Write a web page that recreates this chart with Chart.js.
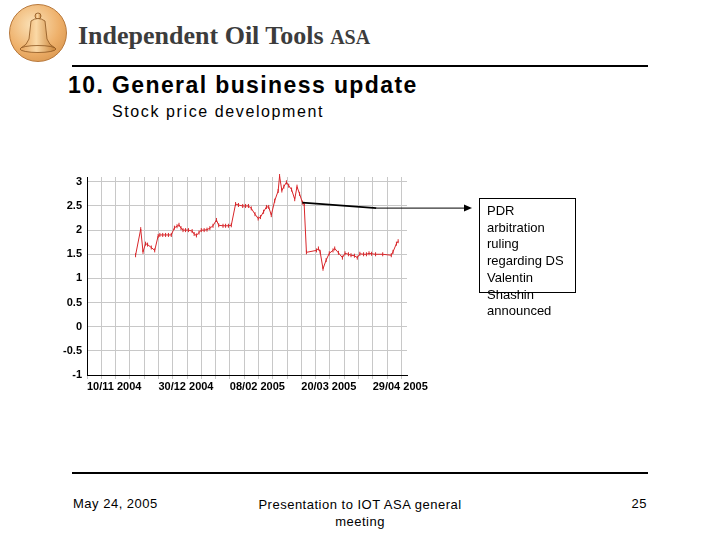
<!DOCTYPE html>
<html>
<head>
<meta charset="utf-8">
<script src="https://cdn.jsdelivr.net/npm/chart.js@4"></script>
<style>
  body { margin: 0; width: 720px; height: 540px; background: #fff; position: relative; overflow: hidden;
         font-family: "Liberation Sans", Arial, sans-serif; }
  .abs { position: absolute; white-space: nowrap; }
  #logo { left: 9px; top: 4px; width: 56px; height: 56px; border-radius: 50%;
          background: radial-gradient(circle at 40% 35%, #fbe2b8, #eeb06a 55%, #cf8a42);
          border: 1px solid #b8783a; }
  #company { left: 78px; top: 21px; font-family: "Liberation Serif", "Times New Roman", serif; font-weight: bold;
             font-size: 26px; color: #3c3c3c; }
  #company span { font-size: 20px; }
  .rule { position: absolute; left: 72px; width: 576px; height: 2px; background: #000; }
  #title { left: 68px; top: 72px; font-weight: bold; font-size: 23px; letter-spacing: 1.4px; color: #000; }
  #subtitle { left: 112px; top: 103px; font-size: 16px; letter-spacing: 1.6px; color: #000; }
  #chartBox { position: absolute; left: 60px; top: 170px; }
  #chartBox canvas { display: block; }
  #callout { position: absolute; left: 479px; top: 198px; width: 95px; height: 93px; border: 1px solid #000; }
  #calloutText { left: 487px; top: 203px; font-size: 13px; line-height: 16.7px; color: #000; }
  .foot { position: absolute; top: 496px; font-size: 13px; letter-spacing: 0.5px; color: #000; }
</style>
</head>
<body>
<div id="logo" class="abs">
  <svg width="56" height="56" viewBox="0 0 56 56">
    <defs>
      <linearGradient id="bg" x1="0" x2="1">
        <stop offset="0" stop-color="#e6a25a"/>
        <stop offset="0.45" stop-color="#fbd9a6"/>
        <stop offset="1" stop-color="#c98236"/>
      </linearGradient>
    </defs>
    <circle cx="28" cy="11" r="3" fill="url(#bg)" stroke="#8a5420" stroke-width="0.8"/>
    <path d="M21 16 Q28 11 35 16 L37 34 Q39 40 45 43 L11 43 Q17 40 19 34 Z" fill="url(#bg)" stroke="#8a5420" stroke-width="0.8"/>
    <ellipse cx="28" cy="44" rx="18" ry="3.5" fill="url(#bg)" stroke="#8a5420" stroke-width="0.8"/>
  </svg>
</div>
<div id="company" class="abs">Independent Oil Tools <span>ASA</span></div>
<div class="rule" style="top:65px"></div>
<div id="title" class="abs">10. General business update</div>
<div id="subtitle" class="abs">Stock price development</div>

<div id="chartBox"><canvas id="chart" width="430" height="230"></canvas></div>

<div id="callout"></div>
<div id="calloutText" class="abs">PDR<br>arbitration<br>ruling<br>regarding DS<br>Valentin<br>Shashin<br>announced</div>

<div class="rule" style="top:472px"></div>
<div class="foot" style="left:73px">May 24, 2005</div>
<div class="foot" style="left:220px; width:280px; text-align:center; line-height:17px">Presentation to IOT ASA general<br>meeting</div>
<div class="foot" style="left:600px; width:47px; text-align:right">25</div>

<script>
// trading-day index (5 per grid column) and closing price
const days = [17.0, 18.8, 19.6, 20.5, 21.2, 22.5, 23.7, 24.9, 25.5, 26.5, 27.5, 28.5, 29.5,
  30.6, 31.5, 32.2, 32.9, 33.6, 34.5, 35.5, 36.8, 37.5, 38.3, 39.2, 40.0, 41.0, 42.0, 43.0,
  44.1, 45.3, 46.1, 47.6, 48.5, 49.5, 50.5, 52.0, 53.0, 54.5, 55.5, 56.5, 57.5, 58.8, 59.9,
  60.7, 61.8, 62.8, 63.6, 64.5, 65.7, 66.9, 67.4, 68.2, 68.9, 69.8, 70.6, 71.6, 72.7, 73.5,
  74.4, 75.4, 76.0, 76.8, 80.3, 81.0, 81.6, 82.6, 83.7, 84.8, 86.1, 86.7, 88.0, 89.4, 90.3,
  91.5, 92.4, 93.6, 94.6, 95.5, 96.8, 97.8, 98.7, 99.6, 101.0, 103.5, 106.5, 107.1, 108.3, 108.9];
const prices = [1.48, 2.02, 1.55, 1.72, 1.70, 1.64, 1.58, 1.88, 1.90, 1.90, 1.90, 1.90, 1.90,
  2.05, 2.08, 2.11, 2.04, 2.00, 2.00, 2.00, 1.98, 1.92, 1.89, 1.95, 2.00, 2.00, 2.01, 2.04,
  2.09, 2.21, 2.10, 2.09, 2.09, 2.09, 2.10, 2.54, 2.52, 2.50, 2.50, 2.50, 2.45, 2.33, 2.24,
  2.27, 2.38, 2.48, 2.48, 2.31, 2.61, 2.81, 3.12, 2.82, 2.90, 2.99, 2.92, 2.84, 2.64, 2.90,
  2.75, 2.57, 2.54, 1.54, 1.58, 1.62, 1.55, 1.20, 1.38, 1.52, 1.58, 1.62, 1.53, 1.43, 1.52,
  1.50, 1.48, 1.47, 1.43, 1.51, 1.50, 1.50, 1.52, 1.51, 1.50, 1.50, 1.48, 1.55, 1.72, 1.77];

const xGrid = [0, 5, 10, 15, 20, 25, 30, 35, 40, 45, 50, 55, 60, 65, 70, 75, 80, 85, 90, 95, 100, 105, 110];
const xTickLabels = { 0: '10/11 2004', 25: '30/12 2004', 50: '08/02 2005', 75: '20/03 2005', 100: '29/04 2005' };
const yTicks = [-1, -0.5, 0, 0.5, 1, 1.5, 2, 2.5, 3];
const annotIndex = 59; // point the PDR callout arrow starts from

const tickFont = { family: '"Liberation Sans Narrow", "Liberation Sans", Arial', size: 11, weight: 'bold' };

const arrowPlugin = {
  id: 'arrow',
  afterDraw(chart) {
    const ctx = chart.ctx;
    const pt = chart.getDatasetMeta(0).data[annotIndex];
    const endX = chart.chartArea.right + 65;
    const bendX = pt.x + 74, bendY = pt.y + 5.5;
    ctx.save();
    ctx.strokeStyle = '#000';
    ctx.fillStyle = '#000';
    ctx.lineWidth = 1.6;
    ctx.beginPath();
    ctx.moveTo(pt.x, pt.y);
    ctx.lineTo(bendX, bendY);
    ctx.stroke();
    ctx.lineWidth = 1;
    ctx.beginPath();
    ctx.moveTo(bendX, bendY);
    ctx.lineTo(endX - 6, bendY);
    ctx.stroke();
    ctx.beginPath();
    ctx.moveTo(endX, bendY);
    ctx.lineTo(endX - 8, bendY - 3.5);
    ctx.lineTo(endX - 8, bendY + 3.5);
    ctx.closePath();
    ctx.fill();
    ctx.restore();
  }
};

new Chart(document.getElementById('chart'), {
  type: 'line',
  data: {
    datasets: [{
      data: days.map((d, i) => ({ x: d, y: prices[i] })),
      borderColor: '#d8262a',
      borderWidth: 1,
      pointStyle: 'line',
      pointRotation: 90,
      pointRadius: 2,
      pointBorderColor: '#d8262a',
      pointBorderWidth: 1,
      tension: 0,
      clip: false
    }]
  },
  options: {
    responsive: false,
    animation: false,
    devicePixelRatio: 1,
    layout: { padding: { left: 0, top: 7, right: 83, bottom: 0 } },
    plugins: { legend: { display: false }, tooltip: { enabled: false } },
    scales: {
      x: {
        type: 'linear',
        min: 0,
        max: 112,
        afterBuildTicks: s => { s.ticks = xGrid.map(v => ({ value: v })); },
        afterFit: s => { s.height = 25; },
        ticks: {
          callback: v => xTickLabels[v] || '',
          align: 'start',
          autoSkip: false,
          maxRotation: 0,
          padding: 1,
          color: '#000',
          font: tickFont
        },
        grid: { color: '#c8c8c8', tickLength: 4, tickColor: '#c8c8c8' },
        border: { color: '#000', width: 1 }
      },
      y: {
        min: -1,
        max: 3.1,
        afterBuildTicks: s => { s.ticks = yTicks.map(v => ({ value: v })); },
        afterFit: s => { s.width = 27; s.paddingTop = 0; s.paddingBottom = 0; },
        ticks: {
          callback: v => String(v),
          padding: 5,
          color: '#000',
          font: tickFont
        },
        grid: { color: '#c8c8c8', drawTicks: false },
        border: { color: '#000', width: 1 }
      }
    }
  },
  plugins: [arrowPlugin]
});
</script>
</body>
</html>
